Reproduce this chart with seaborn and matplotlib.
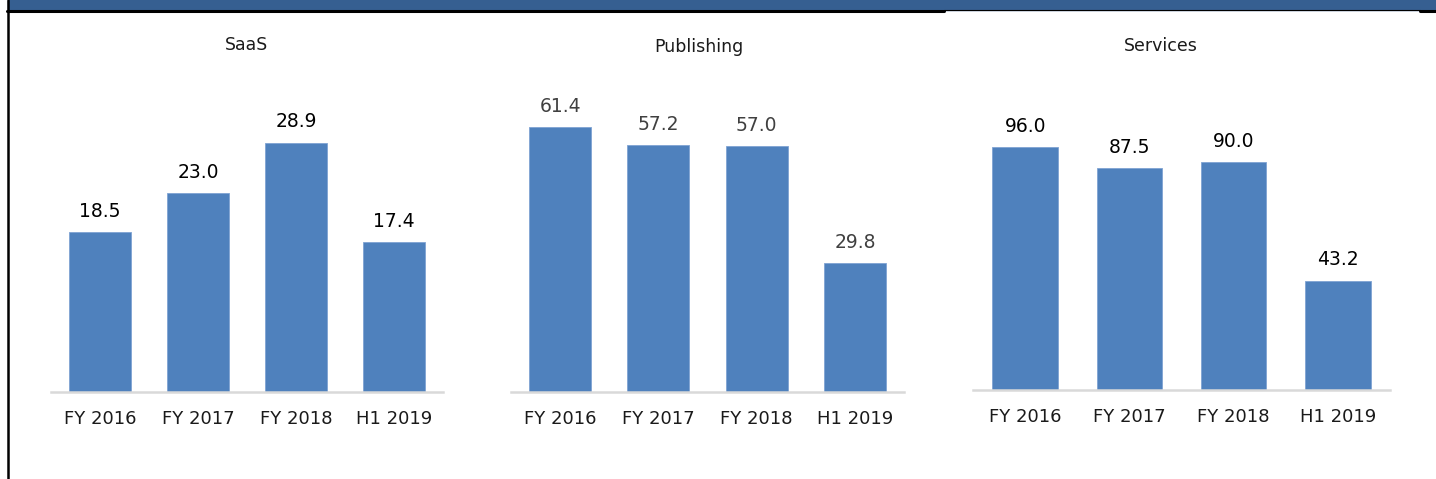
import seaborn as sns
import matplotlib.pyplot as plt
import pandas as pd
from matplotlib.patches import Rectangle
from matplotlib.lines import Line2D

# data
periods = ["FY 2016", "FY 2017", "FY 2018", "H1 2019"]
segments = ["SaaS", "Publishing", "Services"]
saas = [18.5, 23.0, 28.9, 17.4]
publishing = [61.4, 57.2, 57.0, 29.8]
services = [96.0, 87.5, 90.0, 43.2]

W, H = 1436, 479
BAR_COLOR = "#4F81BD"
HEADER_BLUE = "#365F91"


def px_rect(x0, x1, y_top, y_bottom):
    # pixel coords (origin top-left) -> figure fraction rect
    return [x0 / W, 1 - y_bottom / H, (x1 - x0) / W, (y_bottom - y_top) / H]


def main():
    sns.set_theme(style="white")
    plt.rcParams["font.family"] = ["DejaVu Sans"]

    fig = plt.figure(figsize=(W / 100, H / 100), dpi=100, facecolor="white")

    # header band and frame lines
    fig.patches.append(Rectangle((8 / W, 1 - 9.5 / H), 1 - 8 / W, 9.5 / H,
                                 transform=fig.transFigure, color=HEADER_BLUE, zorder=0))
    fig.lines.append(Line2D([7 / W, 944 / W], [1 - 10.5 / H] * 2, transform=fig.transFigure,
                            color="black", lw=2.2))
    fig.lines.append(Line2D([944 / W, 1420 / W], [1 - 10 / H] * 2, transform=fig.transFigure,
                            color="black", lw=0.8))
    fig.lines.append(Line2D([1420 / W, 1], [1 - 10.5 / H] * 2, transform=fig.transFigure,
                            color="black", lw=2.2))
    fig.lines.append(Line2D([8 / W, 8 / W], [0, 1], transform=fig.transFigure,
                            color="black", lw=1.8))

    series = [saas, publishing, services]
    # (left px, right px, top px, baseline px, ymax, label colour, title x, title pad)
    frames = [
        (51, 443, 58, 392, 38.7, "#000000", 0.50, 6),
        (511, 904, 58, 392, 77.4, "#404040", 0.478, 4),
        (973, 1390, 58, 390, 131.1, "#000000", 0.451, 5),
    ]

    for name, vals, (x0, x1, yt, yb, ymax, lc, tx, tpad) in zip(segments, series, frames):
        ax = fig.add_axes(px_rect(x0, x1, yt, yb))
        df = pd.DataFrame({"period": periods, "value": vals})
        sns.barplot(data=df, x="period", y="value", color=BAR_COLOR, width=0.63,
                    saturation=1, edgecolor="#7FA3D3", linewidth=0.6, ax=ax)
        ax.set_xlim(-0.5, 3.5)
        ax.set_ylim(0, ymax)
        for c in ax.containers:
            ax.bar_label(c, fmt="%.1f", padding=8, fontsize=13.5, color=lc)
        ax.set_title(name, fontsize=12.5, pad=tpad, color="#1a1a1a", x=tx)
        ax.set_xlabel("")
        ax.set_ylabel("")
        ax.set_yticks([])
        ax.tick_params(axis="x", length=0, pad=13, labelsize=13, labelcolor="#1a1a1a")
        for s in ["top", "right", "left"]:
            ax.spines[s].set_visible(False)
        ax.spines["bottom"].set_color("#D9D9D9")
        ax.spines["bottom"].set_linewidth(1.8)
        ax.set_facecolor("none")

    fig.savefig("out.png", dpi=100, facecolor="white")
    plt.close(fig)


if __name__ == "__main__":
    main()
